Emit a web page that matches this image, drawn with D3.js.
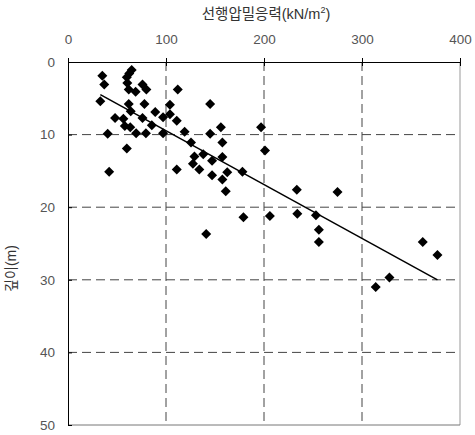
<!DOCTYPE html>
<html>
<head>
<meta charset="utf-8">
<script src="https://cdn.jsdelivr.net/npm/d3@7"></script>
<style>
  body { margin: 0; background: #fff; }
  text { font-family: "Liberation Sans", "Noto Sans CJK KR", sans-serif; }
</style>
</head>
<body>
<div id="chart"></div>
<script>
const WIDTH = 475;
const HEIGHT = 435;
const MARGIN = { top: 62, right: 15, bottom: 10, left: 68 };

// 선행압밀응력 (kN/m²)
const stress = [
  35, 37, 33, 48, 40.5, 42, 65, 62.5, 60, 60.5, 62, 69, 76, 80, 112, 62, 78, 104, 145,
  56.5, 64, 76, 89, 97, 104, 111, 58, 63.5, 85.5, 69.5, 79.5, 97, 119, 145, 156, 197,
  125.5, 157.5, 60, 138, 129, 147, 157.5, 127.5, 134, 111, 178, 147, 162.5, 157.5, 161,
  201, 233.5, 275, 179, 206, 234, 253, 256, 256, 141, 314, 328, 362, 377
];
// 깊이 (m)
const depth = [
  1.9, 3.1, 5.4, 7.7, 9.9, 15.1, 1.1, 1.6, 2.1, 2.9, 3.8, 4.1, 3.1, 3.8, 3.8, 5.8, 5.8, 5.9, 5.8,
  7.8, 6.8, 7.7, 6.9, 7.6, 7.2, 8.1, 8.8, 9.0, 8.7, 9.8, 9.8, 9.8, 9.6, 9.9, 9.0, 9.0,
  11.1, 11.1, 11.9, 12.7, 13.0, 13.6, 13.1, 14.0, 14.8, 14.8, 15.1, 15.6, 15.2, 16.2, 17.8,
  12.2, 17.6, 17.9, 21.4, 21.2, 20.9, 21.1, 23.1, 24.8, 23.7, 31.0, 29.7, 24.8, 26.6
];
// 회귀선 끝점
const fitStress = [33, 377];
const fitDepth = [4.5, 30];

const xTicks = [0, 100, 200, 300, 400];
const yTicks = [0, 10, 20, 30, 40, 50];

const svg = d3.select('#chart').append('svg')
  .attr('width', WIDTH)
  .attr('height', HEIGHT);

const x = d3.scaleLinear().domain([0, 400]).range([MARGIN.left, WIDTH - MARGIN.right]);
const y = d3.scaleLinear().domain([0, 50]).range([MARGIN.top, HEIGHT - MARGIN.bottom]);

// dashed grid
svg.append('g')
  .selectAll('line')
  .data(xTicks.slice(1, -1))
  .join('line')
  .attr('x1', (d) => x(d)).attr('x2', (d) => x(d))
  .attr('y1', y(0)).attr('y2', y(50))
  .attr('stroke', '#444').attr('stroke-width', 1).attr('stroke-dasharray', '9,5');

svg.append('g')
  .selectAll('line')
  .data(yTicks.slice(1, -1))
  .join('line')
  .attr('x1', x(0)).attr('x2', x(400))
  .attr('y1', (d) => y(d)).attr('y2', (d) => y(d))
  .attr('stroke', '#444').attr('stroke-width', 1).attr('stroke-dasharray', '9,5');

// frame: right + bottom gray
svg.append('line')
  .attr('x1', x(400)).attr('x2', x(400)).attr('y1', y(0)).attr('y2', y(50))
  .attr('stroke', '#999');
svg.append('line')
  .attr('x1', x(0)).attr('x2', x(400)).attr('y1', y(50)).attr('y2', y(50))
  .attr('stroke', '#777');

// top axis, ticks crossing the line
const topAxis = svg.append('g').attr('transform', `translate(0,${y(0)})`)
  .call(d3.axisTop(x).tickValues(xTicks).tickSizeInner(4).tickSizeOuter(0).tickPadding(14));
topAxis.select('.domain').attr('stroke', '#000');
topAxis.selectAll('.tick line').attr('y2', 4).attr('y1', -4).attr('stroke', '#000');
topAxis.selectAll('.tick text').attr('fill', '#555').attr('font-size', 13.5);

// left axis, ticks inward
const leftAxis = svg.append('g').attr('transform', `translate(${x(0)},0)`)
  .call(d3.axisLeft(y).tickValues(yTicks).tickSizeInner(-4).tickSizeOuter(0).tickPadding(13));
leftAxis.select('.domain').attr('stroke', '#000');
leftAxis.selectAll('.tick line').attr('stroke', '#000');
leftAxis.selectAll('.tick text').attr('fill', '#555').attr('font-size', 13.5);

// regression line
svg.append('line')
  .attr('x1', x(fitStress[0])).attr('y1', y(fitDepth[0]))
  .attr('x2', x(fitStress[1])).attr('y2', y(fitDepth[1]))
  .attr('stroke', '#000').attr('stroke-width', 1.5);

// diamond markers
const diamond = 'M0,-5L5,0L0,5L-5,0Z';
svg.append('g')
  .selectAll('path')
  .data(d3.range(stress.length))
  .join('path')
  .attr('d', diamond)
  .attr('transform', (i) => `translate(${x(stress[i])},${y(depth[i])})`)
  .attr('fill', '#000');

// axis titles
const title = svg.append('text')
  .attr('x', 266).attr('y', 19)
  .attr('text-anchor', 'middle')
  .attr('font-size', 14.5)
  .attr('fill', '#333');
title.append('tspan').text('선행압밀응력(kN/m');
title.append('tspan').attr('font-size', 9).attr('dy', -6).text('2');
title.append('tspan').attr('dy', 6).text(')');

svg.append('text')
  .attr('transform', `translate(16,${(y(0) + y(50)) / 2 + 25}) rotate(-90)`)
  .attr('text-anchor', 'middle')
  .attr('font-size', 14)
  .attr('fill', '#333')
  .text('깊이(m)');
</script>
</body>
</html>
